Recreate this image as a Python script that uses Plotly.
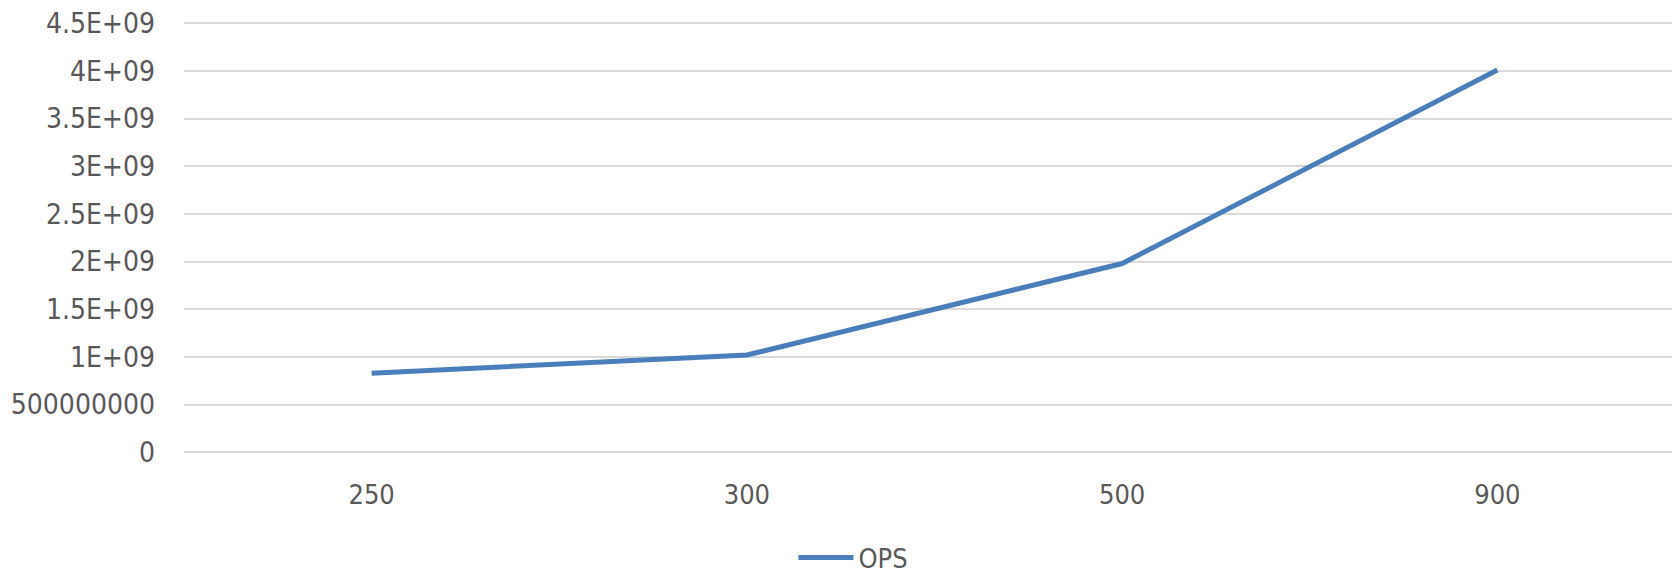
import plotly.graph_objects as go

categories = ["250", "300", "500", "900"]
ops_values = [0.83e9, 1.02e9, 1.98e9, 4.01e9]
y_tick_vals = [0, 0.5e9, 1e9, 1.5e9, 2e9, 2.5e9, 3e9, 3.5e9, 4e9, 4.5e9]
y_tick_text = ["0", "500000000", "1E+09", "1.5E+09", "2E+09", "2.5E+09",
               "3E+09", "3.5E+09", "4E+09", "4.5E+09"]

FONT = "DejaVu Sans Condensed, Liberation Sans, sans-serif"
TXT = "#595959"

fig = go.Figure()
fig.add_trace(go.Scatter(
    x=categories, y=ops_values, mode="lines", name="OPS",
    line=dict(color="#4A7EBB", width=5),
))

fig.update_layout(
    width=1680, height=571,
    margin=dict(l=176, r=3, t=13, b=125, autoexpand=False),
    paper_bgcolor="white", plot_bgcolor="white",
    font=dict(family=FONT, size=27, color=TXT),
    showlegend=True,
    legend=dict(orientation="h", x=0.446, xanchor="center", y=-0.240, yanchor="middle",
                font=dict(family=FONT, size=27, color=TXT), itemwidth=55,
                bgcolor="rgba(0,0,0,0)"),
)
fig.update_xaxes(
    type="category", range=[-0.5, 3.5], showgrid=False, zeroline=False,
    showline=False, ticks="", ticklabelstandoff=22, automargin=False,
    tickfont=dict(family=FONT, size=27, color=TXT),
)
fig.update_yaxes(
    range=[-0.018e9, 4.524e9], tickvals=y_tick_vals, ticktext=y_tick_text,
    showgrid=True, gridcolor="#D9D9D9", gridwidth=2, zeroline=False,
    showline=False, ticks="", ticklabelstandoff=28, automargin=False,
    ticklabeloverflow="allow",
    tickfont=dict(family=FONT, size=28, color=TXT),
)

fig.write_html("out.html")
